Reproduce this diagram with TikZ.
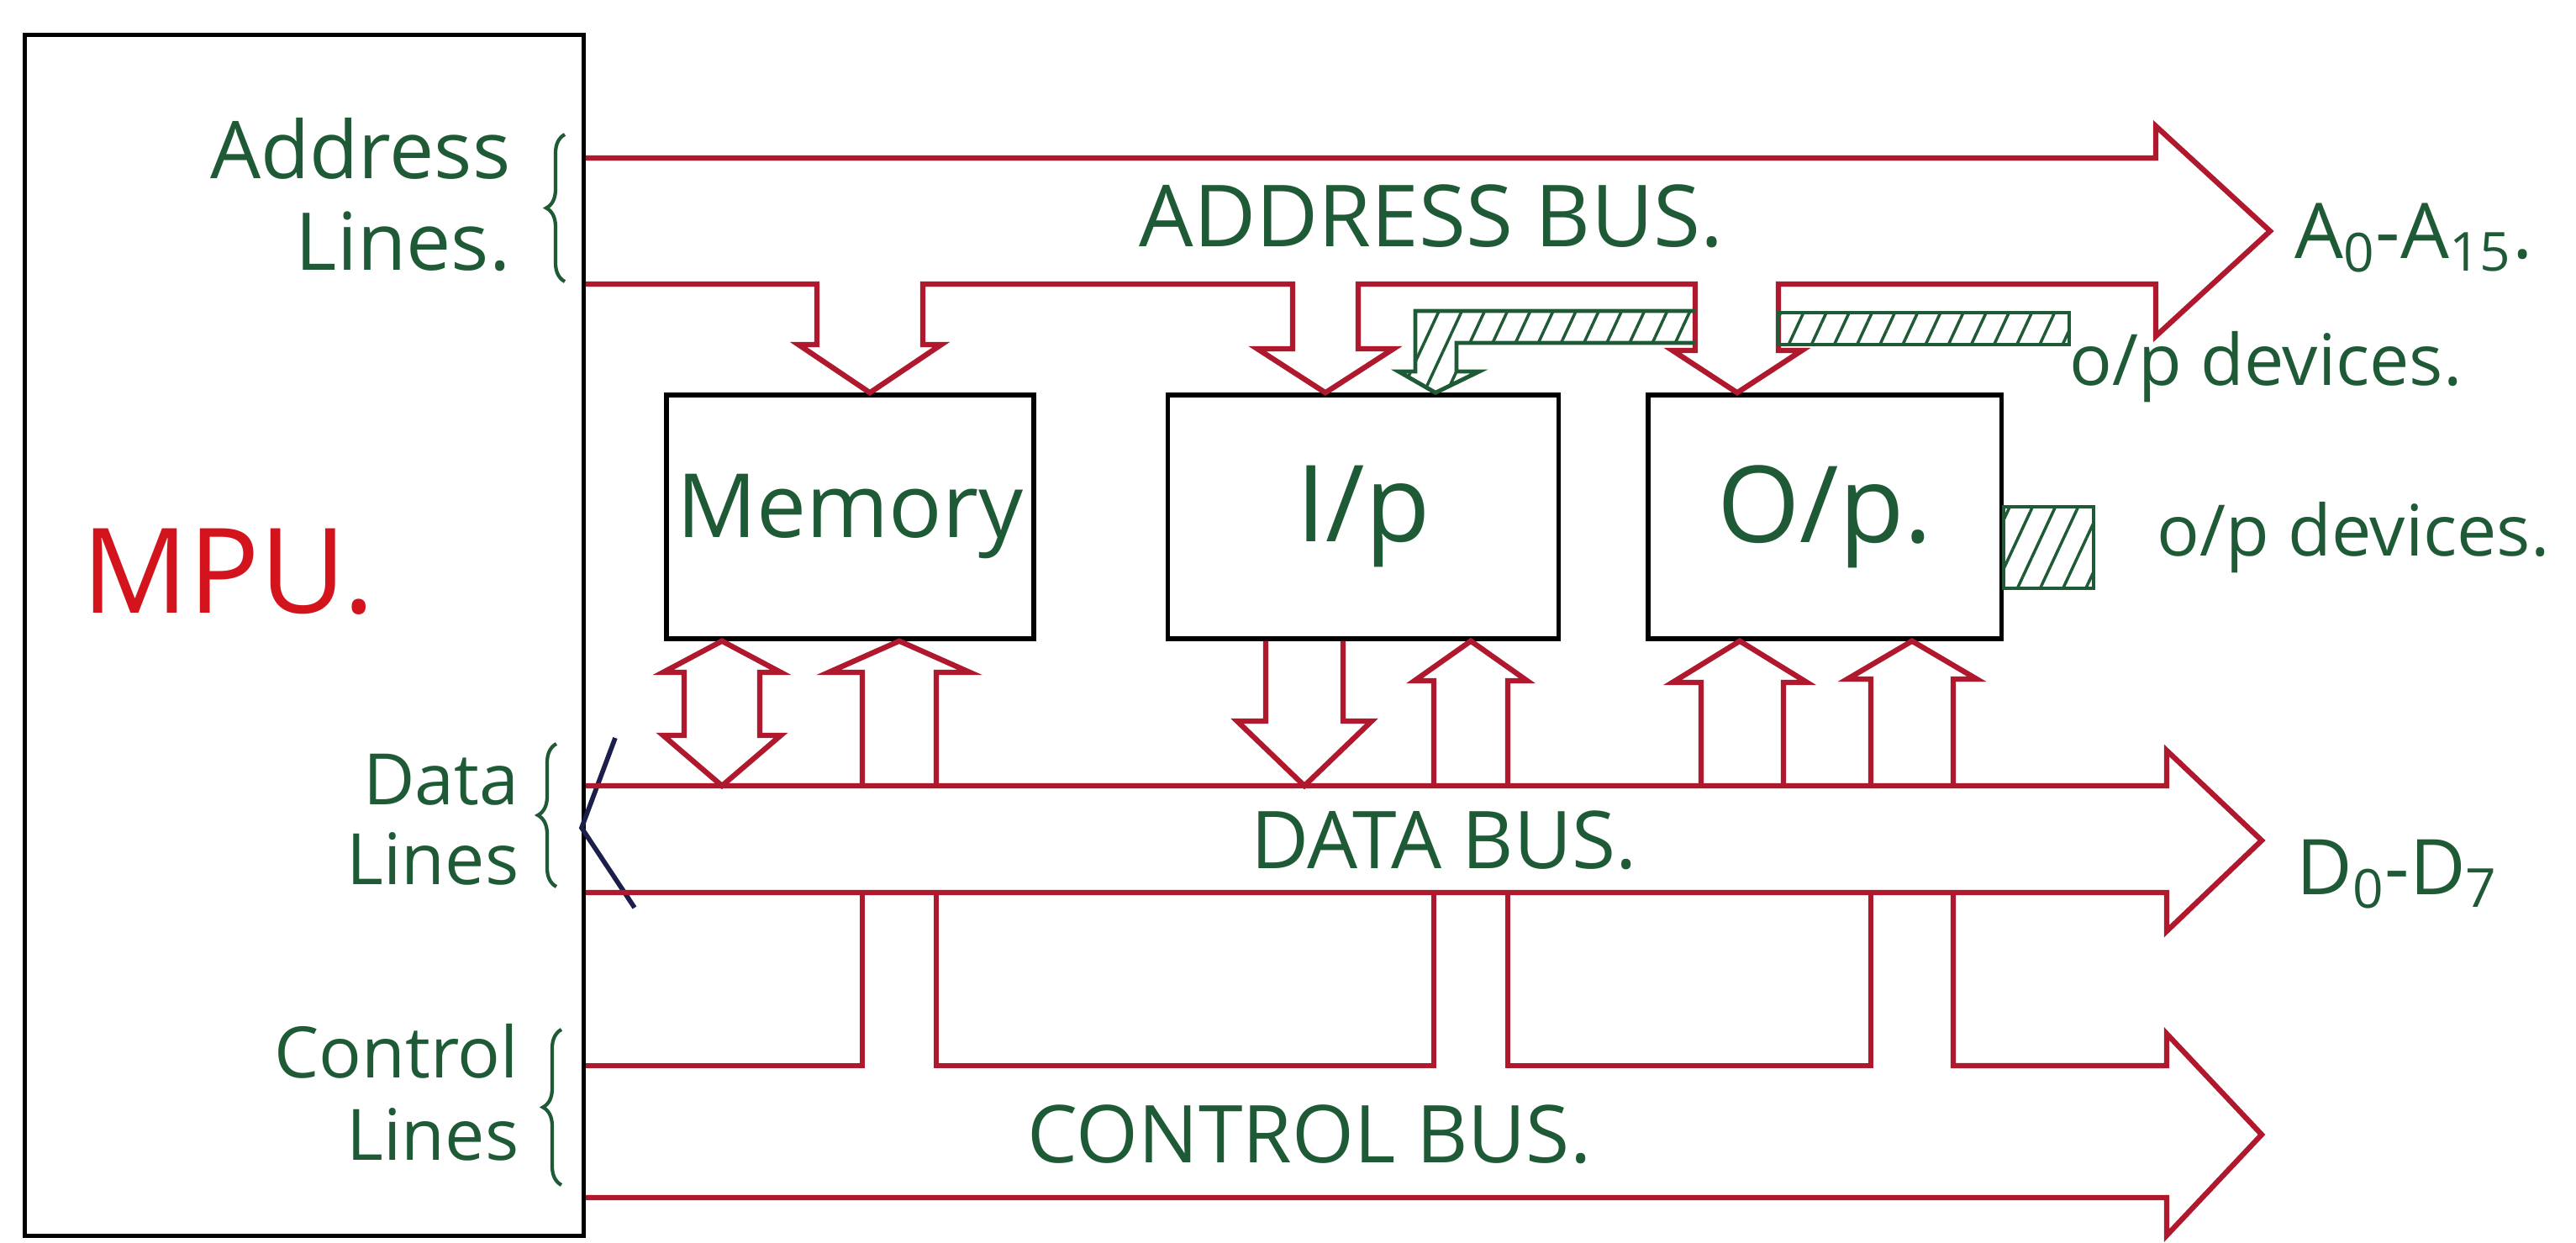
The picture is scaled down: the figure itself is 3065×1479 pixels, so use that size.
\documentclass[tikz,border=0pt]{standalone}
\usepackage{fontspec}
\setmainfont{Open Sans}
\usepackage{tikz}
\usetikzlibrary{positioning, calc, patterns.meta, decorations.pathreplacing}
\definecolor{busred}{HTML}{B0182E}
\definecolor{ink}{HTML}{1F5A36}
\definecolor{mpured}{HTML}{D4141C}
\definecolor{navy}{HTML}{1B1F4A}
\tikzset{
  unitbox/.style={draw=black, line width=1.5pt, inner sep=0pt, text=ink},
  bus/.style={draw=busred, line width=1.8pt, line join=miter},
  lbl/.style={text=ink, inner sep=0pt},
  busname/.style={text=ink, inner sep=0pt, font=\fontsize{29}{30}\selectfont},
  devhatch/.style={draw=ink, line width=1.4pt,
                   pattern={Lines[angle=65, distance=7pt, line width=1pt]},
                   pattern color=ink},
  grp/.style={draw=ink, line width=1.2pt, decorate,
              decoration={brace, amplitude=0.22cm}},
}

\begin{document}
\begin{tikzpicture}[x=0.01cm, y=-0.01cm]
  \useasboundingbox (0,0) rectangle (3065,1479);

  % processor and the three units
  \node[unitbox, minimum width=6.64cm, minimum height=14.28cm] (mpu) at (362,756) {};
  \node[inner sep=0pt, text=mpured, font=\fontsize{40}{40}\selectfont] (mpulbl)
    at (272,680) {MPU.};
  \node[unitbox, minimum width=4.37cm, minimum height=2.9cm] (mem) at (1011.5,615)
    {\fontsize{30}{30}\selectfont Memory};
  \node[unitbox, right=1.54cm of mem, minimum width=4.65cm, minimum height=2.9cm] (inp)
    {\fontsize{36}{36}\selectfont I/p};
  \node[unitbox, right=1.01cm of inp, minimum width=4.2cm, minimum height=2.9cm] (out)
    {\fontsize{36}{36}\selectfont O/p.};

  % line groups on the processor side
  \node[lbl, anchor=east, align=right, font=\fontsize{27}{31}\selectfont] (alines)
    at (608,232) {Address\\Lines.};
  \node[lbl, anchor=east, align=right, font=\fontsize{24}{27}\selectfont] (dlines)
    at (618,975) {Data\\Lines};
  \node[lbl, anchor=east, align=right, font=\fontsize{24}{28}\selectfont] (clines)
    at (618,1300) {Control\\Lines};
  \draw[grp] (672,335) -- (672,160);
  \draw[grp] (662,1055) -- (662,885);
  \draw[grp] (668,1410) -- (668,1225);
  \draw[navy, line width=1.6pt] (732,878) -- (692,985) -- (755,1080);

  % address bus with its branches down into the units
  \draw[bus] (mpu.east |- 0,338) -- (972,338) -- (972,410) -- (950,410)
    -- (1035,0 |- mem.north) -- (1120,410) -- (1098,410) -- (1098,338)
    -- (1538,338) -- (1538,415) -- (1496,415) -- (1577,0 |- inp.north)
    -- (1658,415) -- (1616,415) -- (1616,338) -- (2017,338) -- (2017,417)
    -- (1990,417) -- (2067,0 |- out.north) -- (2144,417) -- (2116,417)
    -- (2116,338) -- (2565,338) -- (2565,400) -- (2701,275) -- (2565,150)
    -- (2565,188) -- (mpu.east |- 0,188);
  \node[busname] (abus) at (1703,257) {ADDRESS BUS.};
  \node[lbl, anchor=west, font=\fontsize{26}{26}\selectfont] (arange)
    at (2730,283) {A\textsubscript{0}-A\textsubscript{15}.};

  % input devices feeding I/p
  \node[lbl, anchor=west, font=\fontsize{24}{24}\selectfont] (idev)
    at (2462,437) {o/p devices.};
  \draw[devhatch] (2017,370) -- (1684,370) -- (1684,442) -- (1664,442)
    -- (1708,0 |- inp.north) -- (1760,442) -- (1733,442) -- (1733,408) -- (2017,408);
  \draw[devhatch] (2116,372) rectangle (idev.west |- 0,410);

  % output devices fed by O/p
  \node[lbl, anchor=west, font=\fontsize{24}{24}\selectfont] (odev)
    at (2566,640) {o/p devices.};
  \draw[devhatch] (out.east |- 0,603) rectangle (2491,700);

  % data bus
  \draw[bus] (mpu.east |- 0,935) -- (2578,935) -- (2578,893) -- (2691,1000)
    -- (2578,1108) -- (2578,1062) -- (mpu.east |- 0,1062);
  \node[busname, font=\fontsize{27}{27}\selectfont] (dbus) at (1718,1000) {DATA BUS.};
  \node[lbl, anchor=west, font=\fontsize{26}{26}\selectfont] (drange)
    at (2732,1040) {D\textsubscript{0}-D\textsubscript{7}};
  \draw[bus] (mem.south -| 859,0) -- (929,800) -- (904,800) -- (904,875)
    -- (929,875) -- (859,935) -- (789,875) -- (814,875) -- (814,800)
    -- (789,800) -- cycle;
  \draw[bus] (1506,0 |- inp.south) -- (1506,858) -- (1472,858) -- (1552,935)
    -- (1632,858) -- (1598,858) -- (1598,0 |- inp.south);
  \draw[bus] (2024,935) -- (2024,812) -- (1990,812) -- (2070,0 |- out.south)
    -- (2150,812) -- (2122,812) -- (2122,935);

  % control bus and its branches up through the data bus
  \draw[bus] (1026,935) -- (1026,800) -- (986,800) -- (1070,0 |- mem.south)
    -- (1154,800) -- (1114,800) -- (1114,935);
  \draw[bus] (1706,935) -- (1706,810) -- (1683,810) -- (1750,0 |- inp.south)
    -- (1817,810) -- (1794,810) -- (1794,935);
  \draw[bus] (2226,935) -- (2226,808) -- (2198,808) -- (2275,0 |- out.south)
    -- (2352,808) -- (2324,808) -- (2324,935);
  \draw[bus] (mpu.east |- 0,1268) -- (1026,1268) -- (1026,1062);
  \draw[bus] (1114,1062) -- (1114,1268) -- (1706,1268) -- (1706,1062);
  \draw[bus] (1794,1062) -- (1794,1268) -- (2226,1268) -- (2226,1062);
  \draw[bus] (2324,1062) -- (2324,1268) -- (2578,1268) -- (2578,1230)
    -- (2691,1350) -- (2578,1470) -- (2578,1425) -- (mpu.east |- 0,1425);
  \node[busname, font=\fontsize{27}{27}\selectfont] (cbus) at (1558,1350) {CONTROL BUS.};
\end{tikzpicture}
\end{document}
